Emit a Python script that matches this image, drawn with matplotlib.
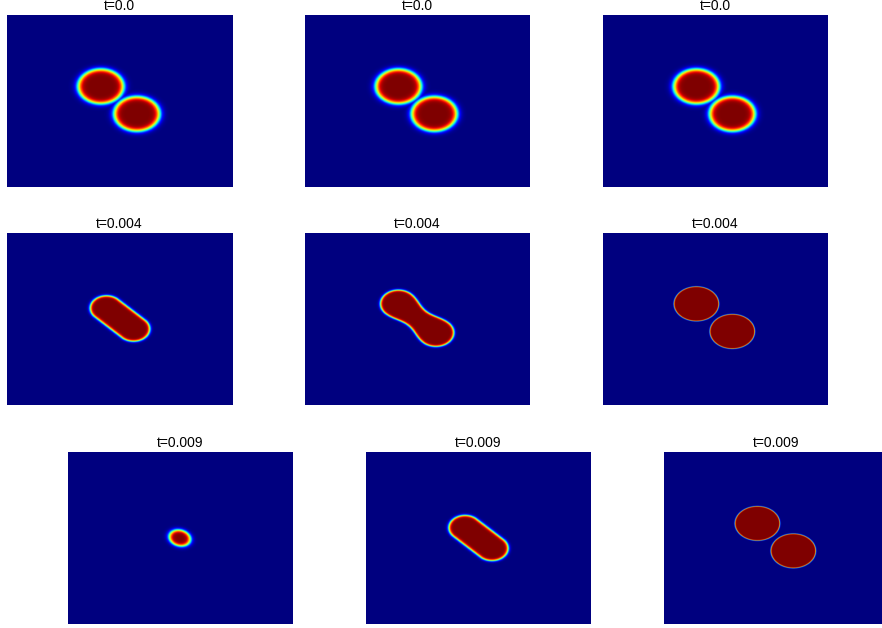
import numpy as np
import matplotlib
matplotlib.use("Agg")
import matplotlib.pyplot as plt

plt.rcParams["font.family"] = ["Liberation Sans", "DejaVu Sans"]

# Snapshot times for each row
row_titles = ["t=0.0", "t=0.004", "t=0.009"]

# Grid resolution of the phase field on the unit square
n_grid = 400

# Initial two-droplet configuration
drop_centers = [(0.415, 0.415), (0.575, 0.575)]
drop_radius = 0.10
init_width = 0.016

# Stadium (merged) shape: end-cap centres, cap radius, interface width
stadium_ends = [(0.44, 0.44), (0.56, 0.56)]
stadium_radius = 0.072
stadium_width = 0.008

# Peanut shape: end-cap centres, cap radius, neck radius, interface width
peanut_ends = [(0.415, 0.415), (0.582, 0.582)]
peanut_radius = 0.08
peanut_neck = 0.057
peanut_width = 0.007

# Shrunken droplet: centre, semi-axes (along / across diagonal), width
small_center = (0.497, 0.5)
small_axes = (0.050, 0.043)
small_width = 0.012

# Sharp-interface droplets
sharp_width = 0.0025

x = np.linspace(0.0, 1.0, n_grid)
X, Y = np.meshgrid(x, x)


def profile(d, w):
    return 0.5 * (1.0 - np.tanh(d / w))


def two_drops(w):
    d = np.minimum.reduce([np.hypot(X - cx, Y - cy) - drop_radius
                           for cx, cy in drop_centers])
    return profile(d, w)


def segment_param(ends):
    (x0, y0), (x1, y1) = ends
    vx, vy = x1 - x0, y1 - y0
    s = ((X - x0) * vx + (Y - y0) * vy) / (vx * vx + vy * vy)
    s = np.clip(s, 0.0, 1.0)
    dist = np.hypot(X - (x0 + s * vx), Y - (y0 + s * vy))
    return s, dist


def stadium():
    _, dist = segment_param(stadium_ends)
    return profile(dist - stadium_radius, stadium_width)


def peanut():
    s, dist = segment_param(peanut_ends)
    r = peanut_radius - (peanut_radius - peanut_neck) * np.sin(np.pi * s) ** 2
    return profile(dist - r, peanut_width)


def small_drop():
    cx, cy = small_center
    a, b = small_axes
    u = ((X - cx) + (Y - cy)) / np.sqrt(2)
    v = ((X - cx) - (Y - cy)) / np.sqrt(2)
    rho = np.hypot(u / a, v / b)
    d = (rho - 1.0) * np.sqrt(a * b)
    return profile(d, small_width)


fields = [
    [two_drops(init_width), two_drops(init_width), two_drops(init_width)],
    [stadium(), peanut(), two_drops(sharp_width)],
    [small_drop(), stadium(), two_drops(sharp_width)],
]

W, H = 882, 628
fig = plt.figure(figsize=(W / 100, H / 100), dpi=100)

row_tops = [15, 233, 452]
col_lefts = [[7, 305, 603], [7, 305, 603], [68, 366, 664]]
ax_w, ax_h = 225, 172

for r in range(3):
    for c in range(3):
        left = col_lefts[r][c]
        top = row_tops[r]
        ax = fig.add_axes([left / W, 1 - (top + ax_h) / H, ax_w / W, ax_h / H])
        ax.imshow(fields[r][c], cmap="jet", vmin=0, vmax=1, aspect="auto",
                  interpolation="bilinear", extent=[0, 1, 1, 0])
        ax.set_title(row_titles[r], fontsize=10, pad=3.5)
        ax.axis("off")

fig.savefig("out.png", dpi=100)
